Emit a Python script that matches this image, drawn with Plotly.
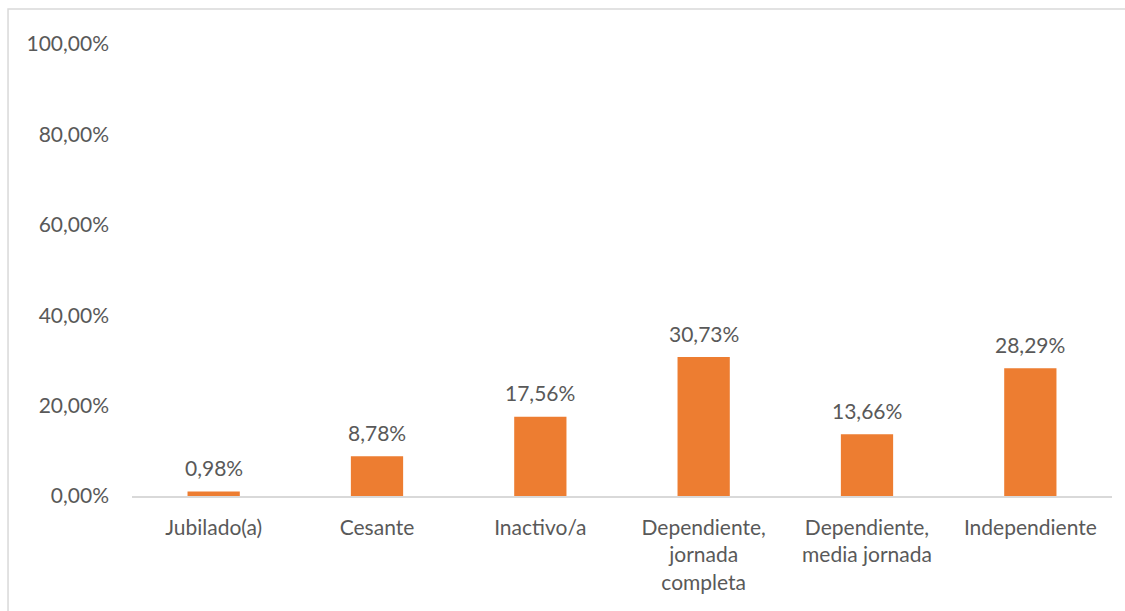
import plotly.graph_objects as go

categories = [
    "Jubilado(a)",
    "Cesante",
    "Inactivo/a",
    "Dependiente,<br>jornada<br>completa",
    "Dependiente,<br>media jornada",
    "Independiente",
]
shares = [0.0098, 0.0878, 0.1756, 0.3073, 0.1366, 0.2829]

TEXT = "#595959"
FONT = "Lato, Calibri, Carlito, sans-serif"
SIZE = 21


def pct(v):
    return f"{v * 100:.2f}%".replace(".", ",")


fig = go.Figure(
    go.Bar(
        x=categories,
        y=shares,
        marker=dict(color="#ED7D31", line=dict(width=0)),
        hoverinfo="skip",
    )
)

# value labels above each bar
for cat, val in zip(categories, shares):
    fig.add_annotation(
        x=cat,
        y=val,
        text=pct(val),
        showarrow=False,
        yanchor="middle",
        yshift=24,
        font=dict(family=FONT, size=SIZE, color=TEXT),
    )

fig.update_layout(
    width=1125,
    height=611,
    margin=dict(l=132, r=13, t=44, b=115),
    paper_bgcolor="white",
    plot_bgcolor="white",
    separators=",.",
    bargap=0.68,
    showlegend=False,
    font=dict(family=FONT, size=SIZE, color=TEXT),
    xaxis=dict(
        showgrid=False,
        showline=True,
        linecolor="#D9D9D9",
        linewidth=1.5,
        ticks="",
        tickfont=dict(family=FONT, size=SIZE, color=TEXT),
        ticklabelstandoff=12,
    ),
    yaxis=dict(
        range=[0, 1],
        dtick=0.2,
        tickformat=".2%",
        showgrid=False,
        zeroline=False,
        showline=False,
        ticks="",
        tickfont=dict(family=FONT, size=SIZE, color=TEXT),
        ticklabelstandoff=22,
    ),
    shapes=[
        dict(
            type="rect",
            xref="paper",
            yref="paper",
            x0=-0.1265,
            x1=1.05,
            y0=-0.4,
            y1=1.0774,
            line=dict(color="#D9D9D9", width=1.5),
            fillcolor="rgba(0,0,0,0)",
            layer="below",
        )
    ],
)

fig.write_html("out.html")
